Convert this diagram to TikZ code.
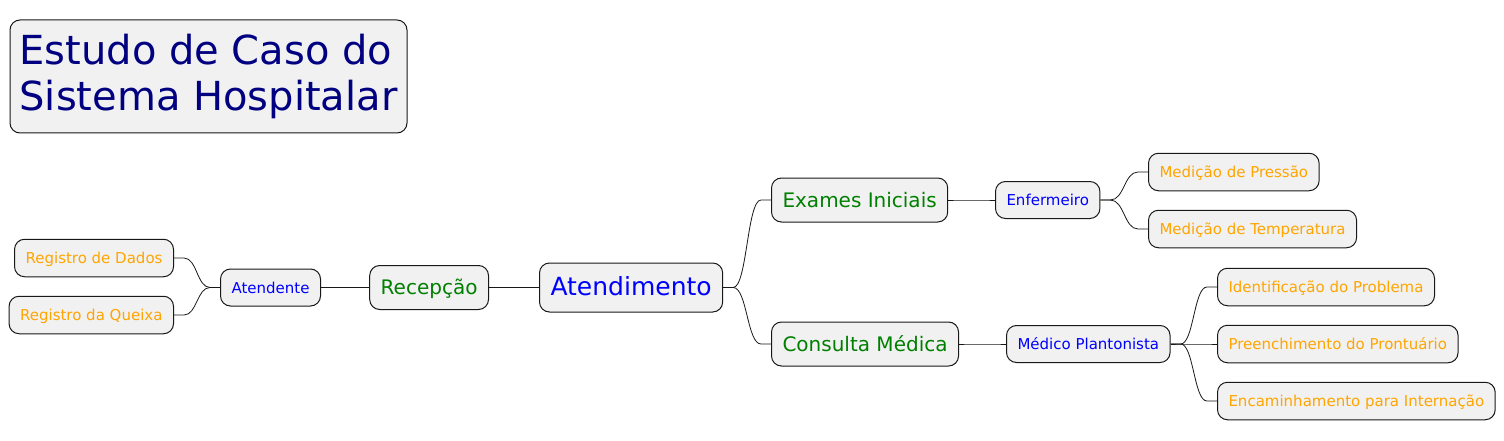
\documentclass[tikz,border=0pt]{standalone}
\usepackage{fontspec}
\setmainfont{DejaVu Sans}
\usetikzlibrary{calc}
\definecolor{boxfill}{HTML}{F1F1F1}
\definecolor{bordercol}{HTML}{181818}
\definecolor{orng}{HTML}{FFA500}
\definecolor{grn}{HTML}{008000}
\definecolor{rootblue}{HTML}{0000FF}
\definecolor{navy}{HTML}{000080}
\begin{document}
\begin{tikzpicture}[x=1pt,y=-1pt,
  box/.style={draw=bordercol, fill=boxfill, line width=1pt, rounded corners=10pt,
    inner xsep=11pt, inner ysep=0pt, text depth=0pt},
  lvlroot/.style={box, font=\fontsize{25}{30}\selectfont, text=rootblue, minimum height=49pt, text height=16pt},
  lvlone/.style={box, font=\fontsize{20}{24}\selectfont, text=grn, minimum height=44pt, text height=14.6pt},
  lvltwo/.style={box, font=\fontsize{15}{18}\selectfont, text=rootblue, minimum height=37pt, text height=11pt},
  leaf/.style={box, font=\fontsize{15}{18}\selectfont, text=orng, minimum height=37.5pt, text height=11pt},
  conn/.style={line width=0.8pt, draw=bordercol,
    to path={let \p1=(\tikztostart), \p2=(\tikztotarget) in
      -- (\x1+10pt,\y1) .. controls ({0.5*\x1+0.5*\x2},\y1) and ({0.5*\x1+0.5*\x2},\y2) .. (\x2-10pt,\y2) -- (\tikztotarget)}}]
\useasboundingbox (0,0) rectangle (1504,441);

\node[draw=bordercol, fill=boxfill, line width=1pt, rounded corners=10pt, text=navy,
  font=\fontsize{40}{46.6}\selectfont, align=left, minimum width=397pt, minimum height=113pt,
  inner sep=0pt] (title) at (208.5,76.5) {Estudo de Caso do\\Sistema Hospitalar};

\node[lvlroot, anchor=west] (atend) at (539,287.5) {Atendimento};
\node[lvlone, anchor=east] (recep) at (489,287.5) {Recepção};
\node[lvltwo, anchor=east] (atdte) at (321,287.5) {Atendente};
\node[leaf, anchor=east] (regd) at (174,258) {Registro de Dados};
\node[leaf, anchor=east] (regq) at (174,315) {Registro da Queixa};

\node[lvlone, anchor=west] (exames) at (771,200) {Exames Iniciais};
\node[lvlone, anchor=west] (consulta) at (771,344) {Consulta Médica};
\node[lvltwo, anchor=west] (enf) at (995,200) {Enfermeiro};
\node[leaf, anchor=west] (press) at (1148,172) {Medição de Pressão};
\node[leaf, anchor=west] (temp) at (1148,229) {Medição de Temperatura};
\node[lvltwo, anchor=west] (medico) at (1006,344) {Médico Plantonista};
\node[leaf, anchor=west] (ident) at (1217,287) {Identificação do Problema};
\node[leaf, anchor=west] (preen) at (1217,344) {Preenchimento do Prontuário};
\node[leaf, anchor=west] (encam) at (1217,401) {Encaminhamento para Internação};

\draw[conn] (recep.east) to (atend.west);
\draw[conn] (atdte.east) to (recep.west);
\draw[conn] (regd.east) to (atdte.west);
\draw[conn] (regq.east) to (atdte.west);
\draw[conn] (atend.east) to (exames.west);
\draw[conn] (atend.east) to (consulta.west);
\draw[conn] (exames.east) to (enf.west);
\draw[conn] (enf.east) to (press.west);
\draw[conn] (enf.east) to (temp.west);
\draw[conn] (consulta.east) to (medico.west);
\draw[conn] (medico.east) to (ident.west);
\draw[conn] (medico.east) to (preen.west);
\draw[conn] (medico.east) to (encam.west);
\end{tikzpicture}
\end{document}
